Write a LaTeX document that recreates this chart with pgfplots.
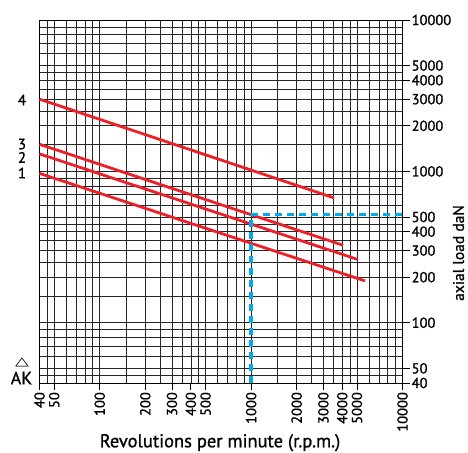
\documentclass[border=0pt]{standalone}
\usepackage{pgfplots}
\pgfplotsset{compat=1.18}
\usepackage{fontspec}
\setmainfont{PT Sans}[FakeBold=1]
\newfontfamily\dejavu{DejaVu Sans}
\definecolor{cRed}{RGB}{237,32,40}
\definecolor{cBlue}{RGB}{0,170,235}
\begin{document}
\begin{tikzpicture}
\useasboundingbox (-39.5pt,-69pt) rectangle (428.5pt,383pt);
\begin{axis}[
  at={(0pt,0pt)}, anchor=south west,
  xmode=log, ymode=log, scale only axis, width=363pt, height=363pt,
  xmin=40, xmax=10000, ymin=40, ymax=10000,
  xtick={40,50,100,200,300,400,500,1000,2000,3000,4000,5000,10000},
  xticklabels={40,50,100,200,300,400,500,1000,2000,3000,4000,5000,10000},
  ytick={40,50,100,200,300,400,500,1000,2000,3000,4000,5000,10000},
  yticklabels={40,50,100,200,300,400,500,1000,2000,3000,4000,5000,10000},
  minor xtick={45,60,70,80,90,150,250,350,450,600,700,800,900,1500,2500,3500,4500,6000,7000,8000,9000},
  minor ytick={45,60,70,80,90,150,250,350,450,600,700,800,900,1500,2500,3500,4500,6000,7000,8000,9000},
  grid=both,
  major grid style={black!85, line width=0.7pt},
  minor grid style={black!85, line width=0.7pt},
  xtick pos=left, ytick pos=right, yticklabel pos=right,
  tick align=outside, major tick length=7pt, minor tick length=0pt,
  tick style={black, line width=0.8pt},
  axis line style={black, line width=0.8pt},
  /pgf/number format/assume math mode=true,
  xticklabel style={rotate=90, anchor=east, font=\fontsize{14.5}{14.5}\selectfont, inner sep=2pt},
  yticklabel style={anchor=west, font=\fontsize{14.5}{14.5}\selectfont, inner sep=2pt},
  clip=false,
]
\addplot[cRed, line width=2.8pt] coordinates {(40,3000) (3530,668)};
\addplot[cRed, line width=2.8pt] coordinates {(40,1510) (4050,325)};
\addplot[cRed, line width=2.8pt] coordinates {(40,1305) (5050,262)};
\addplot[cRed, line width=2.8pt] coordinates {(40,970) (5650,189)};
\addplot[cBlue, line width=3.6pt, dash pattern=on 7pt off 5pt] coordinates {(1000,40) (1000,516)};
\addplot[cBlue, line width=3pt, dash pattern=on 7pt off 5pt] coordinates {(1000,516) (10000,516)};
\end{axis}
\node[font=\fontsize{18.5}{18.5}\selectfont] at (180.5pt,-59.7pt) {Revolutions per minute (r.p.m.)};
\node[font=\fontsize{15.5}{15.5}\selectfont, rotate=90] at (419pt,130pt) {axial load daN};
\node[font=\fontsize{15}{15}\selectfont, inner sep=0pt] at (-17.5pt,283pt) {4};
\node[font=\fontsize{15}{15}\selectfont, inner sep=0pt] at (-17.5pt,239pt) {3};
\node[font=\fontsize{15}{15}\selectfont, inner sep=0pt] at (-17.5pt,225.5pt) {2};
\node[font=\fontsize{15}{15}\selectfont, inner sep=0pt] at (-17.5pt,210pt) {1};
\node[font=\fontsize{18}{18}\selectfont, inner sep=0pt] at (-18pt,5pt) {AK};
\node[font=\dejavu\fontsize{12}{12}\selectfont, xscale=1.5, inner sep=0pt] at (-17.5pt,21pt) {△};
\end{tikzpicture}
\end{document}
